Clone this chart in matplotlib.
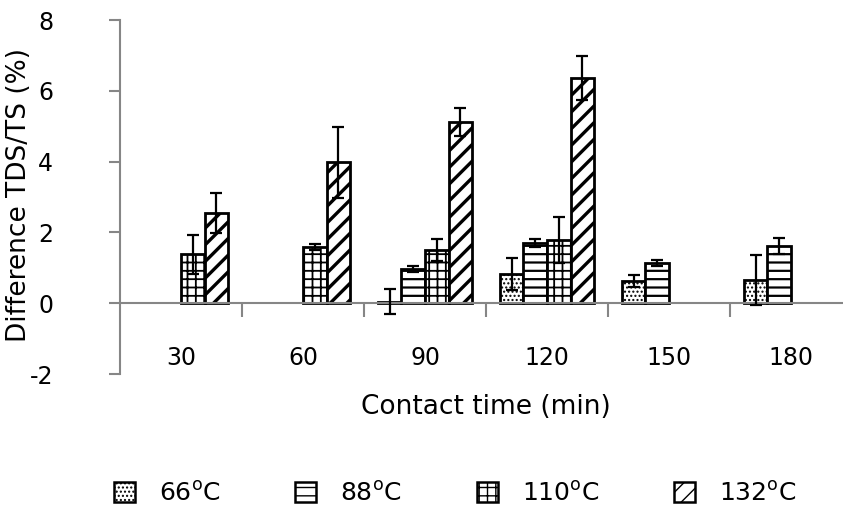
import numpy as np
import matplotlib
matplotlib.use("Agg")
import matplotlib.pyplot as plt
from matplotlib.patches import Patch

categories = ["30", "60", "90", "120", "150", "180"]
series_names = ["66$^{\\mathregular{o}}$C", "88$^{\\mathregular{o}}$C",
                "110$^{\\mathregular{o}}$C", "132$^{\\mathregular{o}}$C"]
nan = np.nan
v66 = [nan, nan, 0.04, 0.82, 0.62, 0.65]
e66 = [nan, nan, 0.35, 0.45, 0.17, 0.70]
v88 = [nan, nan, 0.96, 1.70, 1.13, 1.61]
e88 = [nan, nan, 0.08, 0.10, 0.08, 0.22]
v110 = [1.38, 1.58, 1.50, 1.78, nan, nan]
e110 = [0.55, 0.08, 0.30, 0.65, nan, nan]
v132 = [2.54, 3.98, 5.11, 6.36, nan, nan]
e132 = [0.57, 1.00, 0.40, 0.62, nan, nan]

values = [v66, v88, v110, v132]
errors = [e66, e88, e110, e132]
hatches = ["....", "--", "++", "//"]
hatch_lw = [1.0, 1.6, 1.3, 2.4]

plt.rcParams["font.family"] = ["DejaVu Sans"]

W, H = 843, 511
fig = plt.figure(figsize=(W / 100, H / 100), dpi=100)
ax = fig.add_axes([120 / W, (H - 374) / H, 732 / W, 354 / H])

x = np.arange(len(categories))
bw = 0.193
gray = "#868686"
for i, (vals, errs, h, hl) in enumerate(zip(values, errors, hatches, hatch_lw)):
    off = (i - 1.5) * bw
    with plt.rc_context({"hatch.linewidth": hl}):
        ax.bar(x + off, vals, width=bw, color="white", edgecolor="black",
               linewidth=2.0, hatch=h, zorder=2)
    ax.errorbar(x + off, vals, yerr=errs, fmt="none", ecolor="black",
                elinewidth=1.6, capsize=4.5, capthick=1.6, zorder=3)

ax.set_xlim(-0.5, len(categories) - 0.5)
ax.set_ylim(-2, 8)
ax.set_yticks([-2, 0, 2, 4, 6, 8])
ax.set_yticklabels(["-2", "0", "2", "4", "6", "8"])

ax.set_xticks(x)
ax.set_xticklabels(categories)
ax.set_xticks(np.arange(0.5, len(categories) - 0.5, 1), minor=True)
ax.tick_params(axis="x", which="major", length=0, pad=31, labelsize=17)
ax.tick_params(axis="x", which="minor", length=10, width=1.5, color=gray, direction="out")
ax.tick_params(axis="y", length=8, width=1.5, color=gray, pad=40, labelsize=17)

for s in ["top", "right"]:
    ax.spines[s].set_visible(False)
ax.spines["left"].set_color(gray)
ax.spines["left"].set_linewidth(1.5)
ax.spines["bottom"].set_position(("data", 0))
ax.spines["bottom"].set_color(gray)
ax.spines["bottom"].set_linewidth(1.5)

fig.text(19 / W, 1 - 195 / H, "Difference TDS/TS (%)", rotation=90,
         ha="center", va="center", fontsize=19)
fig.text(486 / W, 1 - 407 / H, "Contact time (min)", ha="center", va="center", fontsize=19)

handles = []
for h, hl in zip(hatches, hatch_lw):
    with plt.rc_context({"hatch.linewidth": hl}):
        handles.append(Patch(facecolor="white", edgecolor="black", hatch=h, linewidth=1.8))
fig.legend(handles, series_names, loc="center", bbox_to_anchor=(455 / W, 1 - 494 / H),
           ncol=4, frameon=False, handlelength=0.85, handleheight=0.85,
           columnspacing=3.0, handletextpad=0.95, borderpad=0.2,
           prop={"family": ["DejaVu Sans"], "size": 18})

fig.savefig("out.png", dpi=100)
